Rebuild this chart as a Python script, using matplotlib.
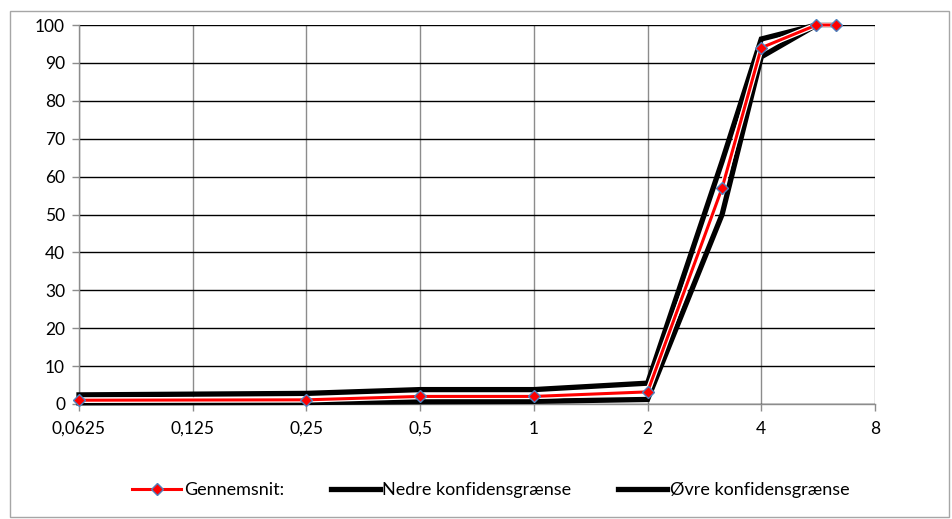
import numpy as np
import matplotlib
matplotlib.use("Agg")
from matplotlib import pyplot as plt
from matplotlib.patches import Rectangle
from matplotlib.ticker import FixedLocator, FixedFormatter, NullLocator

plt.rcParams['font.family'] = ['Lato', 'DejaVu Sans']

# sieve sizes (mm) and passing percent
sizes = [0.0625, 0.25, 0.5, 1, 2, 3.15, 4, 5.6, 6.3]
mean = [1.0, 1.1, 2.0, 2.0, 3.2, 57, 94, 100, 100]
lower = [0.3, 0.4, 0.6, 0.7, 1.2, 50, 91.6, 100, 100]
upper = [2.4, 2.8, 3.8, 3.8, 5.5, 64, 96.3, 100, 100]

xticks = [0.0625, 0.125, 0.25, 0.5, 1, 2, 4, 8]
xlabels = ["0,0625", "0,125", "0,25", "0,5", "1", "2", "4", "8"]
yticks = list(range(0, 101, 10))

fig = plt.figure(figsize=(9.52, 5.19), dpi=100)
fig.patches.append(Rectangle((10 / 952, 2 / 519), 939 / 952, 506 / 519,
                             transform=fig.transFigure, fill=False,
                             edgecolor="#a6a6a6", linewidth=1.0))

ax = fig.add_axes([79 / 952, 115 / 519, 796 / 952, 379 / 519])
ax.set_xscale("log", base=2)
ax.set_xlim(0.0625, 8)
ax.set_ylim(0, 100)

ax.xaxis.set_major_locator(FixedLocator(xticks))
ax.xaxis.set_major_formatter(FixedFormatter(xlabels))
ax.xaxis.set_minor_locator(NullLocator())
ax.set_yticks(yticks)

ax.grid(axis="x", color="#8c8c8c", linewidth=1.0, zorder=0)
ax.grid(axis="y", color="black", linewidth=1.0, zorder=0)
ax.set_axisbelow(True)

for s in ["top", "right"]:
    ax.spines[s].set_visible(False)
for s in ["left", "bottom"]:
    ax.spines[s].set_color("#8c8c8c")
    ax.spines[s].set_linewidth(1.0)
ax.tick_params(axis="both", colors="#8c8c8c", length=5, width=1.0,
               labelcolor="black", labelsize=12.5, direction="out")
ax.tick_params(axis="x", pad=7)
ax.tick_params(axis="y", pad=5)

l_lo, = ax.plot(sizes, lower, color="black", linewidth=3.8,
                solid_joinstyle="miter", zorder=3, clip_on=False,
                label="Nedre konfidensgrænse")
l_up, = ax.plot(sizes, upper, color="black", linewidth=3.8,
                solid_joinstyle="miter", zorder=3, clip_on=False,
                label="Øvre konfidensgrænse")
# thin white border under the mean line
ax.plot(sizes, mean, color="white", linewidth=4.0, zorder=3.5, clip_on=False)
l_mean, = ax.plot(sizes, mean, color="#ff0000", linewidth=2.2,
                  marker="D", markersize=5.8, markerfacecolor="#ff0000",
                  markeredgecolor="#4f81bd", markeredgewidth=1.0,
                  zorder=4, clip_on=False, label="Gennemsnit:")

leg = fig.legend(handles=[l_mean, l_lo, l_up], loc="center",
                 bbox_to_anchor=(491 / 952, 29 / 519), ncol=3, frameon=False,
                 fontsize=13, handlelength=2.7, handletextpad=0.15,
                 columnspacing=2.6, borderpad=0)

fig.savefig("out.png", dpi=100)
